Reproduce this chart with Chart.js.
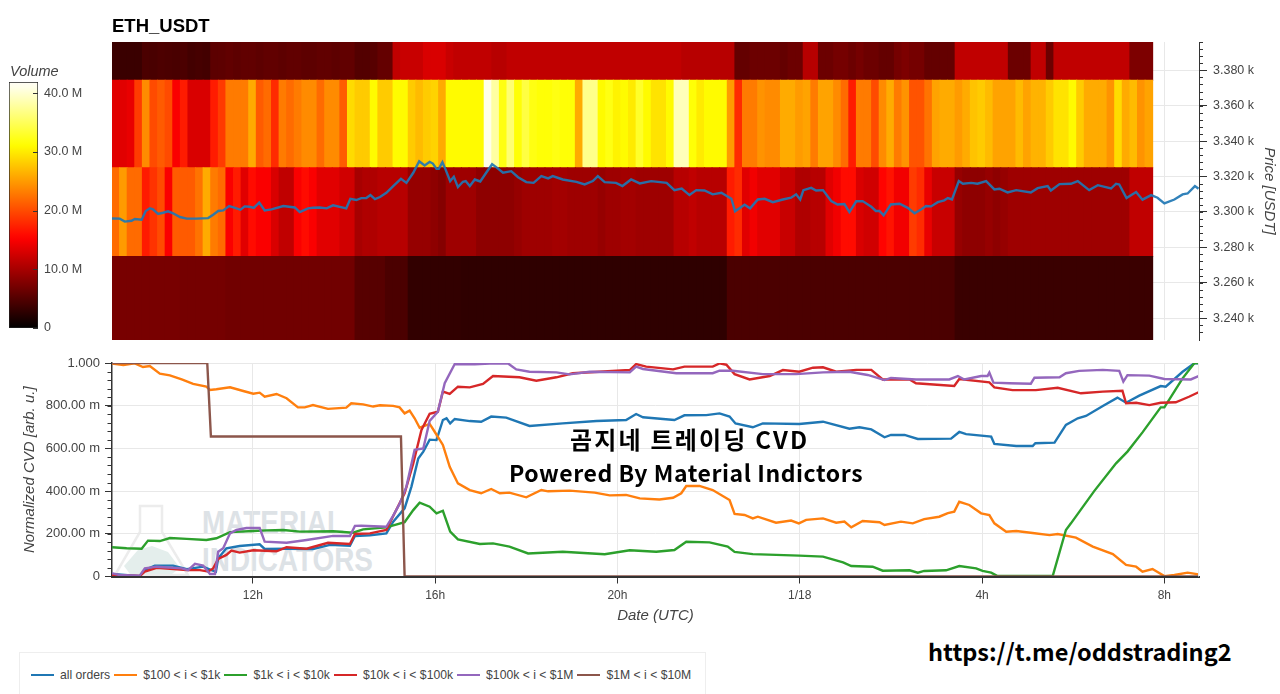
<!DOCTYPE html>
<html lang="en">
<head>
<meta charset="UTF-8">
<title>ETH_USDT CVD</title>
<script src="https://cdn.jsdelivr.net/npm/chart.js"></script>
<style>
    html, body { margin: 0; padding: 0; background: #fff; overflow: hidden; }
    body { position: relative; width: 1280px; height: 694px; font-family: "Liberation Sans", Arial, sans-serif; }
    canvas { position: absolute; filter: blur(.45px); }
    .txt { position: absolute; white-space: nowrap; }
    #title { left: 112px; top: 15px; font-size: 18.5px; font-weight: bold; color: #000; }
    #volume { left: 10px; top: 63px; font-size: 14.5px; font-style: italic; color: #444; }
    .note { font-family: "Noto Sans CJK KR", "Noto Sans", sans-serif; font-weight: bold; color: #000; }
    .mark { font-weight: bold; font-size: 34px; color: #dde2e6; transform: scaleX(.82); transform-origin: left top; }
    #legend { position: absolute; left: 19px; top: 652px; width: 687px; height: 42px; box-sizing: border-box;
              border: 1px solid #eee; border-bottom: 0; display: flex; align-items: center; padding: 2px 0 0 11px;
              font-size: 12.2px; color: #444; white-space: nowrap; }
    #legend i { display: inline-block; flex: none; width: 23px; height: 2px; margin: 0 6px 0 4px; }
    #legend i:first-child { margin-left: 0; }
</style>
</head>
<body>
<svg style="position:absolute;left:112px;top:500px" width="80" height="78">
    <path d="M28 6 H50 V32 L76 75 H3 L28 32 Z" fill="none" stroke="#ececec" stroke-width="2.5"/>
    <path d="M12 66 L26 50 L40 46 L56 52 L68 68 L60 74 H18 Z" fill="#e4eeec"/>
</svg>
<div class="txt mark" style="left:202px;top:503px">MATERIAL</div>
<div class="txt mark" style="left:202px;top:540px">INDICATORS</div>

<canvas id="heatChart" width="1280" height="342" style="left:0;top:0"></canvas>
<canvas id="barChart" width="112" height="262" style="left:0;top:72px"></canvas>
<canvas id="cvdChart" width="1280" height="280" style="left:0;top:350px"></canvas>

<div class="txt" id="title">ETH_USDT</div>
<div class="txt" id="volume">Volume</div>
<div class="txt note" style="left:570px;top:421px;font-size:24px;letter-spacing:2.2px">곰지네 트레이딩 CVD</div>
<div class="txt note" style="left:509px;top:455px;font-size:23px;letter-spacing:.55px">Powered By Material Indictors</div>
<div class="txt note" style="left:928px;top:634px;font-size:23.5px">https://t.me/oddstrading2</div>
<div id="legend"></div>

<script>
    // hours since midnight of 1/17, 1/18 carries on as 24+
    const xStart = 8.91;
    const xEnd = 32.76;
    const xTicks = [12, 16, 20, 24, 28, 32];
    const xTickLabels = ['12h', '16h', '20h', '1/18', '4h', '8h'];

    const priceTicks = [3240, 3260, 3280, 3300, 3320, 3340, 3360, 3380];
    const priceTickLabels = ['3.240 k', '3.260 k', '3.280 k', '3.300 k', '3.320 k', '3.340 k', '3.360 k', '3.380 k'];
    const cvdTicks = [0, 0.2, 0.4, 0.6, 0.8, 1];
    const cvdTickLabels = ['0', '200.00 m', '400.00 m', '600.00 m', '800.00 m', '1.000'];
    const volumeTicks = [0, 10, 20, 30, 40];
    const volumeTickLabels = ['0', '10.0 M', '20.0 M', '30.0 M', '40.0 M'];

    const seriesLabels = ['all orders', '$100 < i < $1k', '$1k < i < $10k', '$10k < i < $100k', '$100k < i < $1M', '$1M < i < $10M'];
    const seriesColors = ['#1f77b4', '#ff7f0e', '#2ca02c', '#d62728', '#9467bd', '#8c564b'];

    // price bands of the heatmap, low to high
    const bandEdges = [3227.6, 3274.8, 3325, 3374.4, 3396];
    const columnHours = 1 / 6;

    // volume in millions per 10 minute column
    const heatBottom = [
        7.2, 7.2, 7.2, 7.2, 7.2, 7.2, 7.2, 7.2, 7.2, 7,
        7, 7, 7, 7, 7, 6.8, 6.8, 6.8, 6.8, 6.8,
        6.8, 6.8, 6.8, 6.8, 6.8, 6.8, 6.8, 6.8, 6.8, 6.8,
        6.8, 6.8, 5.2, 5.2, 5.2, 5.2, 4.5, 4.5, 4.5, 3,
        3, 3, 3, 3, 3, 3, 2.8, 2.8, 2.8, 2.8,
        2.8, 2.8, 2.8, 2.8, 2.8, 2.8, 2.8, 2.8, 2.8, 2.8,
        2.8, 2.8, 2.8, 2.8, 2.8, 2.8, 2.8, 2.8, 2.8, 2.8,
        2.8, 2.8, 2.8, 2.8, 2.8, 2.8, 2.8, 2.8, 2.8, 2.8,
        2.8, 4.5, 4.5, 4.5, 4.5, 4.5, 4.5, 4.5, 4.5, 4.5,
        4.5, 4.5, 4.5, 4.5, 4.5, 4.5, 4.5, 4.5, 4.5, 4.5,
        4.5, 4.5, 4.5, 4.5, 4.5, 4.5, 4.5, 4.5, 4.5, 4.5,
        4.5, 3.5, 3.5, 3.5, 3.5, 3.5, 3.5, 3.5, 3.5, 3.5,
        3.5, 3.5, 3.5, 3.5, 3.5, 3.5, 3.5, 3.5, 3.5, 3.5,
        3.5, 3.5, 3.5, 3.5, 3.5, 3.5, 3.5
    ];
    const heatLower = [
        22, 25, 22, 22, 17, 18.5, 20, 15, 21, 21,
        21, 22.5, 26, 23, 22, 15, 17, 13.5, 16, 15,
        15, 13, 11.5, 11.5, 15, 16, 15, 13.5, 13.5, 13.5,
        12.5, 12.5, 10, 10.5, 10.5, 11, 11, 11, 11, 9,
        9, 9, 8.5, 8, 9.5, 9.5, 9.5, 9.5, 8.5, 8.5,
        8.5, 8.5, 8.5, 9, 9.5, 9.5, 9.5, 9.5, 9.8, 9.8,
        9.5, 9.5, 9.5, 9.5, 9, 9.5, 9.5, 9.8, 9.8, 9.5,
        9.5, 9.5, 9.5, 9.5, 11, 11, 11.5, 11, 11, 11,
        11, 17, 18, 13.5, 14.5, 13.5, 13.5, 13.5, 12, 12,
        10.5, 10.5, 11, 11, 13.5, 14.5, 16, 16, 13, 12.5,
        12.5, 15.5, 16.5, 14.5, 14.5, 19, 18, 14, 12, 12,
        12, 9, 8.5, 8.5, 8.5, 9, 8.5, 9, 9.5, 9.5,
        9.5, 9.5, 9.5, 9.5, 9.5, 9.5, 9.5, 9.5, 9.5, 9.5,
        9.5, 9.5, 9.5, 9.5, 11.5, 11.5, 11.5
    ];
    const heatUpper = [
        13.5, 13.5, 14, 19, 24, 20, 21, 20, 15, 17,
        13, 13, 13, 17, 19, 23, 23, 23, 26, 21,
        22, 18, 23, 22, 23, 24, 24, 22, 24, 24,
        21, 29, 28, 28, 31, 28, 28, 31, 31, 28,
        27, 28, 28.5, 26, 31, 31, 31, 31, 31, 41,
        38, 32, 36, 31.5, 34, 32, 31.5, 31.5, 32, 31.5,
        31.5, 26, 37, 37, 31, 32, 30.5, 31, 30, 33,
        31, 29.5, 29.5, 31, 39, 39, 31.5, 30, 31, 31,
        31, 25, 18, 23, 23, 24.5, 24, 24, 26, 26,
        25, 25.5, 23, 25.5, 25.5, 24, 22, 17, 23, 23,
        20, 24, 26, 23, 24.5, 20.5, 20.5, 22.5, 25.5, 26,
        26, 25, 26, 27.5, 28, 27, 25.5, 25.5, 25.5, 27,
        25.5, 26.5, 26.5, 28, 29.5, 29.5, 31, 28, 26, 26,
        26, 24.5, 29, 26, 27, 24.5, 25.5
    ];
    const heatTop = [
        3.5, 3.5, 3.5, 3.5, 4.5, 4.4, 4.6, 4.5, 4.4, 4.5,
        4, 4.2, 4, 5.5, 5.6, 5.8, 5.6, 5.8, 5.8, 5.6,
        5.8, 5.8, 5.6, 5.8, 5.8, 5.6, 5.6, 5.8, 5.8, 5.6,
        5.8, 5.8, 5, 5, 5.2, 6, 6, 11.5, 12, 12,
        12, 13, 13, 13, 12, 11.5, 11.5, 11.5, 11.5, 11.5,
        11, 11, 11.5, 11.5, 11.5, 11.5, 11.5, 11.5, 11.5, 11.5,
        11.5, 11.5, 11.5, 11.5, 11.5, 11.5, 11.5, 11.5, 11.5, 11.5,
        11.5, 11.5, 11.5, 11.5, 11.5, 11, 11, 11, 11, 11,
        11, 11, 6, 6, 6.5, 6.5, 6.5, 6.5, 6, 6.5,
        6.5, 11, 11, 6.5, 6.5, 7, 7, 6.5, 7, 6.5,
        6.5, 6, 6, 7, 7.5, 7, 7, 6, 6, 6,
        6, 11.5, 11.5, 11.5, 11.5, 11.5, 11.5, 11.5, 6.5, 6.5,
        6.5, 11.5, 11.5, 6.5, 11.5, 11.5, 11.5, 11.5, 11.5, 11.5,
        11.5, 11.5, 11.5, 11.5, 7.5, 7.5, 7.5
    ];

    // [hour, value]
    const priceLine = [
        [8.91,3296.3],[9.08,3296.2],[9.19,3294.5],[9.34,3295],[9.41,3296],[9.56,3295.6],[9.65,3300.5],[9.74,3302],[9.81,3301.4],[9.92,3298.8],
        [10.03,3299.5],[10.14,3300.3],[10.25,3299.2],[10.4,3297.1],[10.55,3296.2],[10.76,3296.2],[11.02,3296.5],[11.13,3298.4],[11.24,3300.5],[11.35,3300.8],
        [11.48,3303.3],[11.61,3302.3],[11.73,3301.2],[11.82,3303.1],[11.93,3302.9],[12.02,3302.3],[12.14,3305.2],[12.26,3300.8],[12.41,3301.4],[12.67,3303.3],
        [12.92,3302.5],[13.03,3299.9],[13.21,3302],[13.32,3302.3],[13.47,3302.5],[13.62,3302],[13.76,3303.7],[14.05,3302],[14.14,3307.4],[14.27,3306.7],
        [14.38,3307.8],[14.49,3307.8],[14.58,3309.5],[14.68,3307.2],[14.79,3308.4],[14.93,3310.8],[15.08,3314.6],[15.25,3318.7],[15.37,3316.4],[15.52,3322.1],
        [15.65,3328.6],[15.77,3326.2],[15.88,3328.3],[15.95,3327.3],[16.03,3324.3],[16.08,3324.3],[16.16,3328.1],[16.23,3323.9],[16.33,3317.4],[16.41,3319.8],
        [16.5,3314],[16.61,3317],[16.67,3317.4],[16.76,3314.6],[16.87,3318.3],[16.99,3317.2],[17.12,3322.1],[17.25,3326.9],[17.34,3325.3],[17.49,3322.1],
        [17.67,3323],[17.82,3319.6],[18,3316.8],[18.16,3316.4],[18.33,3320.2],[18.48,3318.9],[18.58,3320.2],[18.8,3318.3],[19.1,3317],[19.28,3315.5],
        [19.46,3317.4],[19.57,3320.2],[19.72,3316.8],[19.97,3316.4],[20.11,3314.6],[20.3,3318.3],[20.49,3316.1],[20.74,3317.4],[21.08,3316.4],[21.25,3312.3],
        [21.41,3313.2],[21.58,3309.5],[21.73,3312.3],[21.91,3312.1],[22.09,3309.9],[22.28,3310.8],[22.5,3307.4],[22.58,3300.3],[22.79,3304],[22.91,3302],
        [23.08,3307],[23.23,3307.4],[23.41,3305.5],[23.63,3307],[23.81,3308],[23.92,3309.9],[24.01,3307],[24.08,3312.3],[24.25,3313.6],[24.36,3312.1],
        [24.51,3312.3],[24.69,3306.1],[24.83,3304.2],[24.98,3304.4],[25.09,3299.9],[25.24,3306],[25.38,3306.1],[25.57,3302.9],[25.67,3300.5],[25.75,3300.5],
        [25.84,3298],[26,3304.2],[26.19,3304.6],[26.37,3302.3],[26.52,3299.2],[26.66,3301.4],[26.77,3303.3],[26.88,3303.1],[27.03,3305.5],[27.17,3306.5],
        [27.25,3307.8],[27.34,3307],[27.49,3317.4],[27.58,3315.9],[27.76,3316.4],[27.9,3315.9],[28.09,3317.4],[28.27,3312.7],[28.38,3313.1],[28.56,3311],
        [28.75,3312.3],[29.07,3311],[29.22,3313.4],[29.44,3314.6],[29.51,3312.1],[29.7,3315.7],[29.95,3315.9],[30.1,3317.4],[30.35,3312.3],[30.54,3315.1],
        [30.83,3313.2],[30.94,3315.9],[31.01,3315.5],[31.17,3307.8],[31.38,3311.2],[31.52,3306.9],[31.71,3309.5],[31.85,3308],[32,3304.8],[32.22,3307],
        [32.4,3309.9],[32.51,3310.4],[32.67,3314.6],[32.75,3313.1]
    ];

    const allOrders = [
        [8.91,.012],[9.52,.002],[9.63,.03],[9.85,.051],[10.25,.051],[10.55,.034],[10.91,.046],[11.09,.03],[11.19,.023],[11.24,.085],
        [11.42,.132],[11.71,.143],[12.15,.151],[12.26,.129],[12.74,.13],[13.32,.129],[13.69,.148],[14.13,.144],[14.24,.19],[14.57,.193],
        [14.93,.202],[15.08,.257],[15.33,.319],[15.48,.421],[15.63,.553],[15.74,.585],[15.88,.641],[16.03,.639],[16.17,.733],[16.25,.741],
        [16.33,.717],[16.43,.738],[16.76,.728],[17.01,.725],[17.23,.749],[17.56,.744],[18.07,.705],[18.8,.717],[19.54,.728],[20.19,.733],
        [20.41,.761],[20.56,.746],[21.25,.733],[21.47,.755],[21.95,.756],[22.24,.764],[22.46,.749],[22.59,.717],[22.97,.699],[23.19,.717],
        [23.99,.714],[24.51,.725],[25.09,.692],[25.31,.699],[25.57,.689],[25.86,.652],[26,.663],[26.3,.663],[26.59,.644],[27.32,.646],
        [27.5,.677],[27.65,.667],[28.2,.655],[28.27,.621],[28.75,.611],[29.11,.611],[29.17,.624],[29.59,.627],[29.84,.71],[30.1,.741],
        [30.28,.752],[30.65,.799],[30.97,.838],[31.16,.814],[31.45,.847],[31.92,.892],[32.03,.889],[32.4,.959],[32.66,.999],[32.75,.999]
    ];
    const smallOrders = [
        [8.91,.998],[9.16,.991],[9.41,.998],[9.59,.981],[9.74,.986],[9.96,.95],[10.18,.942],[10.44,.923],[10.69,.902],[10.98,.889],
        [11.06,.874],[11.2,.877],[11.5,.886],[11.79,.869],[12.01,.856],[12.15,.861],[12.26,.842],[12.52,.855],[12.74,.835],[12.99,.792],
        [13.14,.792],[13.32,.803],[13.65,.785],[14.05,.791],[14.16,.811],[14.42,.806],[14.64,.796],[14.79,.802],[15.08,.799],[15.22,.792],
        [15.33,.764],[15.44,.777],[15.55,.741],[15.66,.697],[15.88,.715],[15.99,.678],[16.17,.616],[16.32,.514],[16.5,.436],[16.76,.405],
        [17.01,.39],[17.23,.41],[17.42,.39],[17.63,.393],[18,.371],[18.33,.405],[18.48,.399],[18.95,.402],[19.5,.393],[19.83,.38],
        [20.19,.382],[20.49,.366],[20.92,.361],[21.22,.369],[21.4,.39],[21.51,.424],[21.8,.424],[22.09,.405],[22.46,.358],[22.57,.293],
        [22.79,.288],[22.97,.272],[23.08,.28],[23.48,.252],[23.81,.262],[23.98,.249],[24.14,.265],[24.51,.272],[24.8,.252],[24.98,.257],
        [25.13,.23],[25.38,.26],[25.75,.254],[25.86,.241],[26.22,.257],[26.48,.249],[26.73,.269],[27.06,.28],[27.25,.297],[27.39,.304],
        [27.5,.35],[27.72,.335],[27.98,.296],[28.16,.288],[28.27,.249],[28.53,.21],[28.75,.213],[29.11,.204],[29.48,.194],[29.66,.199],
        [30.06,.182],[30.43,.14],[30.87,.105],[31.16,.054],[31.38,.046],[31.52,.023],[31.74,.035],[32,.002],[32.22,.007],[32.51,.018],[32.75,.01]
    ];
    const midOrders = [
        [8.91,.137],[9.23,.132],[9.56,.13],[9.7,.168],[9.96,.166],[10.18,.18],[10.55,.176],[10.98,.171],[11.2,.179],[11.5,.208],
        [12.01,.213],[12.3,.216],[12.67,.218],[13.03,.21],[13.76,.212],[14.2,.205],[14.42,.221],[14.93,.23],[15.33,.254],[15.52,.311],
        [15.66,.346],[15.88,.327],[16.03,.296],[16.17,.308],[16.33,.21],[16.5,.174],[16.98,.152],[17.27,.155],[17.63,.14],[18.04,.108],
        [18.8,.116],[19.72,.104],[20.27,.123],[20.85,.116],[21.25,.124],[21.51,.163],[22.02,.16],[22.42,.14],[22.57,.115],[22.97,.105],
        [23.99,.098],[24.51,.093],[24.95,.066],[25.13,.049],[25.6,.046],[25.82,.027],[26.41,.029],[26.59,.018],[26.73,.026],[27.21,.029],
        [27.5,.049],[27.87,.038],[28.01,.026],[28.2,.018],[28.34,.002],[29.55,.002],[29.84,.218],[29.95,.249],[30.46,.4],[30.94,.53],
        [31.19,.585],[31.52,.675],[31.92,.792],[32,.792],[32.4,.928],[32.66,1],[32.75,1]
    ];
    const largeOrders = [
        [8.91,.007],[9.52,.002],[9.63,.023],[9.89,.041],[10.55,.03],[10.84,.03],[11.02,.023],[11.13,.038],[11.24,.082],[11.42,.101],
        [11.53,.121],[11.71,.112],[12.01,.123],[12.52,.118],[12.74,.137],[13.18,.13],[13.65,.158],[14.13,.152],[14.24,.199],[14.57,.202],
        [14.93,.218],[15.11,.296],[15.33,.39],[15.52,.53],[15.7,.686],[15.88,.762],[16.06,.772],[16.17,.866],[16.32,.855],[16.5,.889],
        [16.76,.886],[17.05,.902],[17.27,.939],[17.85,.933],[18.22,.917],[18.66,.933],[19.02,.952],[20.27,.967],[20.41,.995],[20.63,.983],
        [21.22,.97],[21.47,.983],[22.09,.983],[22.24,.998],[22.39,.992],[22.57,.948],[22.9,.923],[23.34,.939],[23.63,.967],[23.99,.959],
        [24.29,.978],[24.51,.98],[24.8,.959],[25.24,.968],[25.57,.968],[25.82,.923],[26.41,.923],[26.55,.905],[27.39,.892],[27.5,.925],
        [28.16,.909],[28.27,.886],[28.67,.873],[29.18,.873],[29.66,.884],[30.17,.858],[30.65,.866],[31.08,.87],[31.16,.811],[31.38,.814],
        [31.67,.803],[31.92,.814],[32.25,.816],[32.54,.842],[32.75,.863]
    ];
    const hugeOrders = [
        [8.91,.015],[9.08,.007],[9.52,.004],[9.63,.038],[9.89,.046],[10.44,.038],[10.58,.03],[10.73,.059],[10.91,.051],[11.06,.012],
        [11.17,.012],[11.24,.116],[11.35,.132],[11.5,.202],[11.64,.218],[11.86,.227],[12.15,.227],[12.26,.163],[12.74,.158],[13.18,.171],
        [13.76,.19],[14.13,.19],[14.24,.237],[14.38,.238],[14.93,.233],[15.08,.285],[15.22,.34],[15.37,.421],[15.55,.593],[15.74,.6],
        [15.88,.729],[16.06,.772],[16.21,.905],[16.43,.995],[16.87,.994],[17.2,.998],[17.6,.998],[17.78,.97],[18.07,.959],[18.66,.956],
        [18.95,.947],[19.39,.959],[20.27,.956],[20.41,.983],[20.56,.972],[21.29,.952],[22.09,.952],[22.24,.964],[22.53,.964],[23.19,.948],
        [23.92,.948],[24.51,.956],[25.09,.959],[25.27,.952],[25.49,.944],[25.86,.92],[26,.93],[26.55,.923],[27.28,.923],[27.47,.939],
        [27.61,.923],[27.98,.939],[28.12,.939],[28.16,.955],[28.25,.908],[28.6,.905],[29.07,.903],[29.15,.931],[29.7,.933],[29.84,.952],
        [30.13,.963],[30.65,.968],[31.01,.963],[31.1,.913],[31.19,.943],[31.67,.941],[32,.925],[32.58,.923],[32.75,.939]
    ];
    const whaleOrders = [[8.91,1],[11,1],[11.08,.656],[15.25,.656],[15.33,0],[32.75,0]];

    const allSeries = [allOrders, smallOrders, midOrders, largeOrders, hugeOrders, whaleOrders];

    const volumeMax = 41.9;

    // black, red, yellow, white ramp of the colour bar
    const hot = (v) => {
        const t = Math.min(v / volumeMax, 1);
        const r = Math.min(t / 0.365, 1);
        const g = Math.max(Math.min((t - 0.365) / 0.381, 1), 0);
        const b = Math.max((t - 0.746) / 0.254, 0);
        return `rgb(${Math.round(r * 255)},${Math.round(g * 255)},${Math.round(b * 255)})`;
    };

    const toPoints = (pairs) => pairs.map(([x, y]) => ({ x, y }));

    const labelFont = { family: '"Liberation Sans", Arial, sans-serif', size: 12.5 };
    const titleFont = { family: '"Liberation Sans", Arial, sans-serif', size: 15, style: 'italic', weight: 'normal' };
    const gridColor = '#e8e8e8';
    const axisColor = '#333';
    const textColor = '#444';

    const fixedTicks = (values) => (scale) => { scale.ticks = values.map((value) => ({ value })); };
    const labelFrom = (values, labels) => (v) => labels[values.indexOf(v)];

    // keep the plot box where it was measured, no room for overhanging labels
    const fixWidth = (w) => (s) => { s.width = w; s.paddingTop = 0; s.paddingBottom = 0; };
    const fixHeight = (h) => (s) => { s.height = h; s.paddingLeft = 0; s.paddingRight = 0; };

    // short ticks between the labelled ones
    const minorTicks = {
        id: 'minorTicks',
        afterDraw(chart, args, opts) {
            const { ctx, chartArea } = chart;
            const y = chart.scales.y;
            ctx.save();
            ctx.lineWidth = 1;
            if (opts.rightEdge) {
                ctx.strokeStyle = gridColor;
                ctx.beginPath();
                ctx.moveTo(chartArea.right - 0.5, chartArea.top);
                ctx.lineTo(chartArea.right - 0.5, chartArea.bottom);
                ctx.stroke();
            }
            ctx.strokeStyle = axisColor;
            ctx.beginPath();
            for (let v = opts.first; v <= y.max; v += opts.step) {
                const p = Math.round(y.getPixelForValue(v)) + 0.5;
                ctx.moveTo(opts.x, p);
                ctx.lineTo(opts.x + opts.length, p);
            }
            ctx.stroke();
            ctx.restore();
        }
    };

    // price heatmap with the price line on top
    const heatRows = [heatBottom, heatLower, heatUpper, heatTop];
    const heatSets = heatRows.map((row, b) => ({
        type: 'bar',
        data: row.map((_, i) => ({ x: xStart + (i + 0.5) * columnHours, y: [bandEdges[b], bandEdges[b + 1]] })),
        backgroundColor: row.map(hot),
        grouped: false,
        barPercentage: 1,
        categoryPercentage: 1,
        borderWidth: 0,
        inflateAmount: 0.5,
        order: 2
    }));

    new Chart(document.getElementById('heatChart').getContext('2d'), {
        type: 'bar',
        data: {
            datasets: [...heatSets, {
                type: 'line',
                data: toPoints(priceLine),
                borderColor: 'rgba(31,119,180,.92)',
                borderWidth: 2.4,
                pointRadius: 0,
                tension: 0,
                order: 1
            }]
        },
        options: {
            responsive: false,
            animation: false,
            events: [],
            layout: { padding: { top: 42, left: 112, right: 0, bottom: 2 } },
            plugins: {
                legend: { display: false },
                tooltip: { enabled: false },
                minorTicks: { x: 1199, length: 4, first: 3232, step: 4 }
            },
            scales: {
                x: {
                    type: 'linear',
                    min: xStart,
                    max: xEnd,
                    offset: false,
                    afterBuildTicks: fixedTicks(xTicks),
                    afterFit: fixHeight(0),
                    ticks: { display: false },
                    border: { display: false },
                    grid: { color: gridColor, offset: false, drawTicks: false }
                },
                y: {
                    position: 'right',
                    min: bandEdges[0],
                    max: bandEdges[4],
                    afterBuildTicks: fixedTicks(priceTicks),
                    afterFit: fixWidth(81),
                    title: { display: true, text: 'Price [USDT]', font: titleFont, color: textColor, padding: { top: 2, bottom: 0 } },
                    ticks: { callback: labelFrom(priceTicks, priceTickLabels), font: labelFont, color: textColor, padding: 6, autoSkip: false },
                    border: { color: axisColor },
                    grid: { color: gridColor, tickColor: axisColor, tickLength: 8 }
                }
            }
        },
        plugins: [minorTicks]
    });

    // colour bar
    new Chart(document.getElementById('barChart').getContext('2d'), {
        type: 'bar',
        data: {
            labels: ['Volume'],
            datasets: [{
                data: [[0, volumeMax]],
                backgroundColor: (c) => {
                    const area = c.chart.chartArea;
                    if (!area) return '#000';
                    const g = c.chart.ctx.createLinearGradient(0, area.bottom, 0, area.top);
                    for (let v = 0; v <= volumeMax; v += 1) g.addColorStop(v / volumeMax, hot(v));
                    g.addColorStop(1, '#fffdf6');
                    return g;
                },
                borderColor: '#222',
                borderWidth: 1,
                borderSkipped: false,
                barPercentage: 1,
                categoryPercentage: 1
            }]
        },
        options: {
            responsive: false,
            animation: false,
            events: [],
            layout: { padding: { top: 10, left: 9, right: 0, bottom: 6 } },
            plugins: {
                legend: { display: false },
                tooltip: { enabled: false },
                minorTicks: { x: 33, length: 5, first: 0, step: 10 }
            },
            scales: {
                x: { display: false },
                y: {
                    position: 'right',
                    min: 0,
                    max: volumeMax,
                    afterBuildTicks: fixedTicks(volumeTicks),
                    afterFit: fixWidth(74),
                    ticks: { callback: labelFrom(volumeTicks, volumeTickLabels), font: labelFont, color: textColor, padding: 6, autoSkip: false },
                    border: { display: false },
                    grid: { display: false, drawTicks: false }
                }
            }
        },
        plugins: [minorTicks]
    });

    // normalized CVD lines, later series sit on top
    new Chart(document.getElementById('cvdChart').getContext('2d'), {
        type: 'line',
        data: {
            datasets: allSeries.map((pairs, i) => ({
                label: seriesLabels[i],
                data: toPoints(pairs),
                borderColor: seriesColors[i],
                borderWidth: 2.4,
                pointRadius: 0,
                tension: 0,
                order: allSeries.length - i
            }))
        },
        options: {
            responsive: false,
            animation: false,
            events: [],
            layout: { padding: { top: 13, left: 0, right: 81, bottom: 0 } },
            plugins: {
                legend: { display: false },
                tooltip: { enabled: false },
                minorTicks: { x: 107.5, length: 4.5, first: 0.04, step: 0.04, rightEdge: true }
            },
            scales: {
                x: {
                    type: 'linear',
                    min: xStart,
                    max: xEnd,
                    afterBuildTicks: fixedTicks(xTicks),
                    afterFit: fixHeight(53.5),
                    title: { display: true, text: 'Date (UTC)', font: titleFont, color: textColor, padding: { top: 0, bottom: 5 } },
                    ticks: { callback: labelFrom(xTicks, xTickLabels), font: { ...labelFont, size: 12 }, color: textColor, padding: 5, maxRotation: 0, autoSkip: false },
                    border: { color: axisColor, width: 2, z: 1 },
                    grid: { color: gridColor, tickColor: axisColor, tickLength: 7 }
                },
                y: {
                    min: 0,
                    max: 1,
                    afterBuildTicks: fixedTicks(cvdTicks),
                    afterFit: fixWidth(112),
                    title: { display: true, text: 'Normalized CVD [arb. u.]', font: titleFont, color: textColor, padding: { top: 21, bottom: 0 } },
                    ticks: { callback: labelFrom(cvdTicks, cvdTickLabels), font: { ...labelFont, size: 13 }, color: textColor, padding: 5, autoSkip: false },
                    border: { color: axisColor, width: 1.5 },
                    grid: { color: gridColor, tickColor: axisColor, tickLength: 7 }
                }
            }
        },
        plugins: [minorTicks]
    });

    // legend strip under the chart
    const legend = document.getElementById('legend');
    seriesLabels.forEach((label, i) => {
        const line = document.createElement('i');
        line.style.background = seriesColors[i];
        legend.appendChild(line);
        legend.appendChild(document.createTextNode(label));
    });
</script>
</body>
</html>
